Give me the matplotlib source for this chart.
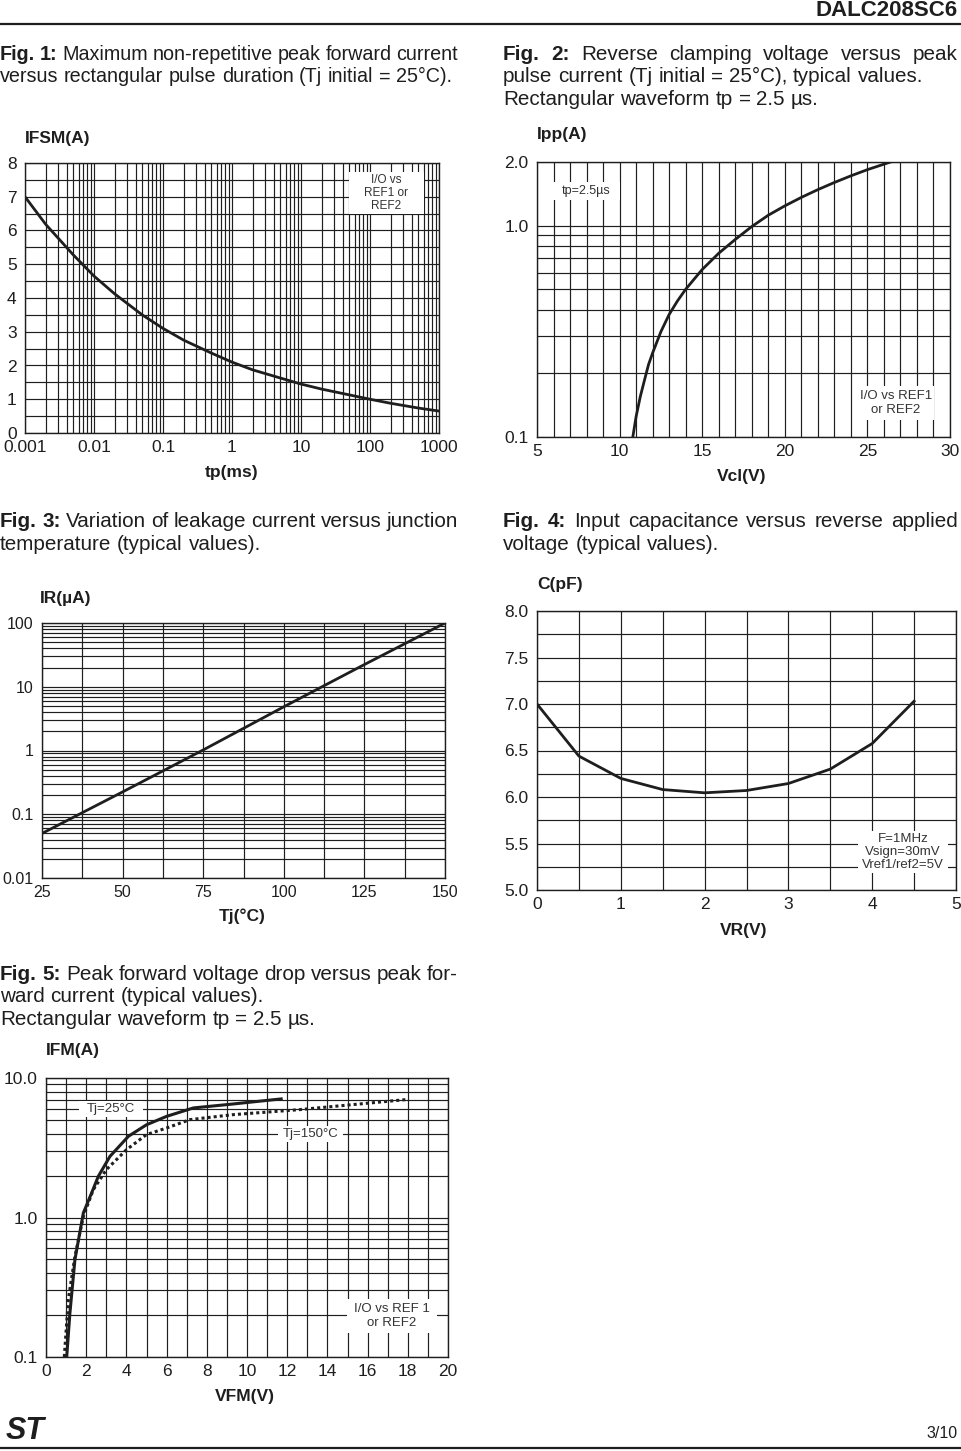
import numpy as np
import matplotlib
matplotlib.use('Agg')
import matplotlib.pyplot as plt
from matplotlib.patches import Rectangle
from matplotlib.ticker import FixedLocator, NullFormatter

plt.rcParams['font.family'] = ['Liberation Sans', 'DejaVu Sans']
INK = '#1e1e1e'

# ---------------- data ----------------
# Fig 1
tp_ms = [0.001, 0.002, 0.005, 0.01, 0.02, 0.05, 0.1, 0.2, 0.5, 1, 2, 5, 10, 20, 50, 100, 200, 500, 1000]
ifsm_a = [7.0, 6.18, 5.28, 4.65, 4.12, 3.50, 3.10, 2.75, 2.37, 2.10, 1.87, 1.63, 1.45, 1.30, 1.13, 1.0, 0.88, 0.74, 0.65]
# Fig 2
vcl_v = [10.8, 11.0, 11.25, 11.5, 11.75, 12.0, 12.5, 13.0, 13.5, 14.0, 15.0, 16.0, 17.0, 18.0,
         19.0, 20.0, 21.0, 22.0, 23.0, 24.0, 25.0, 26.4]
ipp_a = [0.1, 0.125, 0.155, 0.185, 0.22, 0.25, 0.315, 0.38, 0.44, 0.50, 0.62, 0.74, 0.86, 0.99,
         1.12, 1.24, 1.36, 1.48, 1.60, 1.72, 1.84, 2.0]
# Fig 3
tj_c = [25, 50, 75, 100, 125, 150]
ir_ua = [0.05, 0.224, 1.02, 4.85, 22.3, 100]
# Fig 4
vr_v = [0, 0.5, 1, 1.5, 2, 2.5, 3, 3.5, 4, 4.5]
c_pf = [7.0, 6.44, 6.2, 6.08, 6.045, 6.07, 6.145, 6.3, 6.575, 7.03]
# Fig 5
vfm_25 = [1.03, 1.19, 1.44, 1.86, 2.27, 2.6, 3.18, 4.1, 5.0, 6.0, 7.33, 9.3, 11.7]
ifm_25 = [0.1, 0.207, 0.5, 1.08, 1.5, 1.97, 2.74, 3.82, 4.62, 5.31, 6.1, 6.51, 7.08]
vfm_150 = [0.91, 1.11, 1.44, 1.86, 2.35, 3.0, 4.0, 5.0, 6.0, 7.16, 9.3, 12.6, 17.9]
ifm_150 = [0.1, 0.258, 0.527, 1.02, 1.58, 2.2, 3.06, 3.93, 4.38, 5.03, 5.46, 5.93, 7.0]

W, H = 961, 1451
fig = plt.figure(figsize=(W / 100, H / 100), dpi=100)


def ax_px(x0, y0, x1, y1):
    return fig.add_axes([x0 / W, 1 - y1 / H, (x1 - x0) / W, (y1 - y0) / H])


def style(ax, lsize=12.5):
    for s in ax.spines.values():
        s.set_color(INK)
        s.set_linewidth(1.0)
    ax.grid(which='both', color=INK, lw=0.85)
    ax.set_axisbelow(True)
    ax.tick_params(which='both', length=0, labelsize=lsize, colors=INK)
    ax.tick_params(axis='y', pad=6)
    ax.tick_params(axis='x', pad=5)
    ax.xaxis.set_minor_formatter(NullFormatter())
    ax.yaxis.set_minor_formatter(NullFormatter())


def log_minor(lo_exp, hi_exp):
    return [k * 10.0 ** e for e in range(lo_exp, hi_exp) for k in range(2, 10)]


# Fig 1
ax1 = ax_px(25, 163, 439, 433)
ax1.set_xscale('log')
ax1.set_xlim(1e-3, 1e3)
ax1.set_ylim(0, 8)
ax1.set_xticks([1e-3, 1e-2, 1e-1, 1, 10, 100, 1000],
               labels=['0.001', '0.01', '0.1', '1', '10', '100', '1000'])
ax1.xaxis.set_minor_locator(FixedLocator(log_minor(-3, 3)))
ax1.set_yticks(range(0, 9))
ax1.yaxis.set_minor_locator(FixedLocator(np.arange(0.5, 8, 1.0)))
style(ax1)
ax1.plot(tp_ms, ifsm_a, color=INK, lw=2.0, solid_joinstyle='round')

# Fig 2
ax2 = ax_px(537, 162, 950, 437)
ax2.set_yscale('log')
ax2.set_xlim(5, 30)
ax2.set_ylim(0.1, 2.0)
ax2.set_xticks(range(5, 31, 5))
ax2.xaxis.set_minor_locator(FixedLocator([v for v in range(6, 30) if v % 5]))
ax2.set_yticks([0.1, 1.0, 2.0], labels=['0.1', '1.0', '2.0'])
ax2.yaxis.set_minor_locator(FixedLocator([0.2, 0.3, 0.4, 0.5, 0.6, 0.7, 0.8, 0.9]))
style(ax2)
ax2.plot(vcl_v, ipp_a, color=INK, lw=2.0, solid_joinstyle='round')

# Fig 3
ax3 = ax_px(42, 623, 445, 878)
ax3.set_yscale('log')
ax3.set_xlim(25, 150)
ax3.set_ylim(0.01, 100)
ax3.set_xticks(range(25, 151, 25))
ax3.xaxis.set_minor_locator(FixedLocator(np.arange(37.5, 150, 25)))
ax3.set_yticks([0.01, 0.1, 1, 10, 100], labels=['0.01', '0.1', '1', '10', '100'])
ax3.yaxis.set_minor_locator(FixedLocator(log_minor(-2, 2)))
style(ax3, 11.5)
ax3.plot(tj_c, ir_ua, color=INK, lw=2.0)

# Fig 4
ax4 = ax_px(537, 611, 956, 890)
ax4.set_xlim(0, 5)
ax4.set_ylim(5, 8)
ax4.set_xticks(range(0, 6))
ax4.xaxis.set_minor_locator(FixedLocator(np.arange(0.5, 5, 1.0)))
ax4.set_yticks(np.arange(5, 8.01, 0.5), labels=['5.0', '5.5', '6.0', '6.5', '7.0', '7.5', '8.0'])
ax4.yaxis.set_minor_locator(FixedLocator(np.arange(5.25, 8, 0.5)))
style(ax4)
ax4.plot(vr_v, c_pf, color=INK, lw=2.0)

# Fig 5
ax5 = ax_px(46, 1078, 448, 1357)
ax5.set_yscale('log')
ax5.set_xlim(0, 20)
ax5.set_ylim(0.1, 10)
ax5.set_xticks(range(0, 21, 2))
ax5.xaxis.set_minor_locator(FixedLocator(range(1, 20, 2)))
ax5.set_yticks([0.1, 1, 10], labels=['0.1', '1.0', '10.0'])
ax5.yaxis.set_minor_locator(FixedLocator(log_minor(-1, 1)))
style(ax5)
ax5.plot(vfm_25, ifm_25, color=INK, lw=2.2, solid_joinstyle='round')
ax5.plot(vfm_150, ifm_150, color=INK, lw=2.2, linestyle=(0, (1, 1)))

# ---------------- overlay (page text) ----------------
ov = fig.add_axes([0, 0, 1, 1], zorder=10)
ov.set_xlim(0, W)
ov.set_ylim(H, 0)
ov.axis('off')
ov.patch.set_alpha(0)

renderer = fig.canvas.get_renderer()


def text_w(s, size, weight='normal'):
    t = ov.text(0, 0, s, fontsize=size, fontweight=weight)
    w = t.get_window_extent(renderer).width
    t.remove()
    return w


def tokens_of(line, bold_n):
    return [(w, 'bold' if j < bold_n else 'normal') for j, w in enumerate(line.split(' '))]


def paragraph(x0, x1, y0, lines, size=14.9, lead=22.5, nbold=2):
    # paragraph-wide font size: shrink so the justified first line fits
    toks0 = tokens_of(lines[0][0], nbold)
    fs = size
    for _ in range(3):
        sp = text_w('a a', fs) - 2 * text_w('a', fs)
        tot = sum(text_w(w, fs, wt) for w, wt in toks0) + (len(toks0) - 1) * sp * 0.85
        if tot > (x1 - x0):
            fs = fs * (x1 - x0) / tot
        else:
            break
    sp = text_w('a a', fs) - 2 * text_w('a', fs)
    for i, (line, just) in enumerate(lines):
        toks = tokens_of(line, nbold if i == 0 else 0)
        widths = [text_w(w, fs, wt) for w, wt in toks]
        n = len(toks)
        gap = (x1 - x0 - sum(widths)) / (n - 1) if (just and n > 1) else sp
        x = x0
        y = y0 + i * lead
        for (w, wt), wd in zip(toks, widths):
            ov.text(x, y, w, fontsize=fs, fontweight=wt, ha='left', va='baseline', color=INK)
            x += wd + gap


paragraph(0, 458, 60, [("Fig. 1: Maximum non-repetitive peak forward current", True),
                       ("versus rectangular pulse duration (Tj initial = 25°C).", False)])
paragraph(503, 958, 60, [("Fig. 2: Reverse clamping voltage versus peak", True),
                         ("pulse current (Tj initial = 25°C), typical values.", False),
                         ("Rectangular waveform tp = 2.5 µs.", False)])
paragraph(0, 458, 527, [("Fig. 3: Variation of leakage current versus junction", True),
                        ("temperature (typical values).", False)])
paragraph(503, 958, 527, [("Fig. 4: Input capacitance versus reverse applied", True),
                          ("voltage (typical values).", False)])
paragraph(0, 458, 980, [("Fig. 5: Peak forward voltage drop versus peak for-", True),
                        ("ward current (typical values).", False),
                        ("Rectangular waveform tp = 2.5 µs.", False)])

# axis labels
lab = dict(fontsize=12.5, fontweight='bold', color=INK, va='center')
ov.text(25, 138, 'IFSM(A)', ha='left', **lab)
ov.text(232, 472, 'tp(ms)', ha='center', **lab)
ov.text(537, 134, 'Ipp(A)', ha='left', **lab)
ov.text(742, 477, 'Vcl(V)', ha='center', **lab)
ov.text(40, 599, 'IR(µA)', ha='left', **lab)
ov.text(242, 916, 'Tj(°C)', ha='center', **lab)
ov.text(537, 584, 'C(pF)', ha='left', **lab)
ov.text(744, 930, 'VR(V)', ha='center', **lab)
ov.text(46, 1051, 'IFM(A)', ha='left', **lab)
ov.text(245, 1397, 'VFM(V)', ha='center', **lab)


def note(x0, y0, x1, y1, s, size=9.5, ls=1.15):
    ov.add_patch(Rectangle((x0, y0), x1 - x0, y1 - y0, facecolor='white', edgecolor='none', zorder=2))
    ov.text((x0 + x1) / 2, (y0 + y1) / 2, s, fontsize=size, ha='center', va='center',
            multialignment='center', linespacing=ls, color='#333333', zorder=3)


note(349, 172, 424, 214, 'I/O vs\nREF1 or\nREF2', size=8.5, ls=1.1)
note(553, 182, 620, 200, 'tp=2.5µs', size=9)
note(858, 386, 934, 420, 'I/O vs REF1\nor REF2', size=9.5)
note(858, 831, 948, 873, 'F=1MHz\nVsign=30mV\nVref1/ref2=5V', size=9.5, ls=1.1)
note(79, 1101, 143, 1117, 'Tj=25°C', size=9.5)
note(278, 1126, 343, 1142, 'Tj=150°C', size=9.5)
note(347, 1299, 437, 1333, 'I/O vs REF 1\nor REF2', size=9.5)

# header / footer
ov.text(958, 11, 'DALC208SC6', ha='right', va='center', fontsize=16, fontweight='bold', color=INK)
ov.plot([0, W], [23.5, 23.5], color=INK, lw=1.6)
ov.text(6, 1431, 'ST', ha='left', va='center', fontsize=22, fontweight='bold', fontstyle='italic', color=INK)
ov.text(958, 1433, '3/10', ha='right', va='center', fontsize=11.5, color=INK)
ov.plot([0, W], [1448, 1448], color=INK, lw=1.6)

fig.savefig('out.png', dpi=100)
